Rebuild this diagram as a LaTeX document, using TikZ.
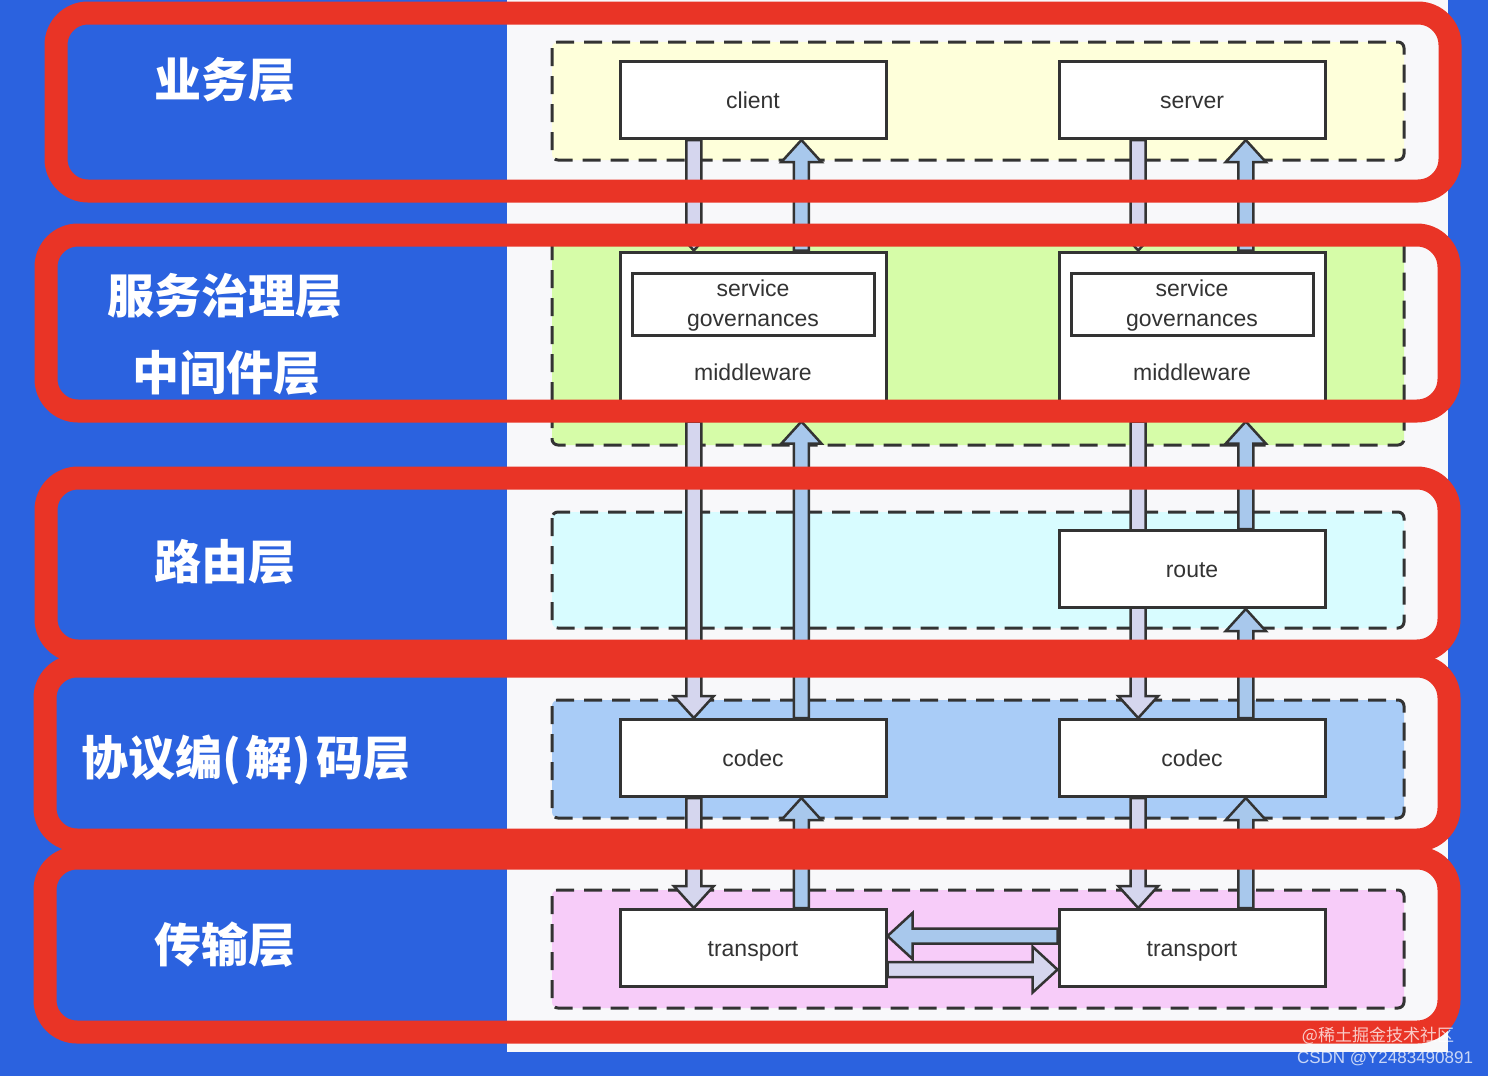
\documentclass[tikz,border=0pt]{standalone}
\usepackage{fontspec}
\setmainfont{Liberation Sans}
\newfontfamily\cjk{Noto Sans CJK SC}
\usetikzlibrary{positioning, calc}
\definecolor{figbg}{HTML}{2B62DF}
\definecolor{figpanel}{HTML}{F8F8FA}
\definecolor{figred}{HTML}{E93426}
\definecolor{figdark}{HTML}{333333}
\definecolor{figyellow}{HTML}{FEFFDA}
\definecolor{figgreen}{HTML}{D6FCA8}
\definecolor{figcyan}{HTML}{D8FCFF}
\definecolor{figblue}{HTML}{A9CCF7}
\definecolor{figpink}{HTML}{F7CCF9}
\definecolor{figlav}{HTML}{D5D6EE}
\definecolor{figsky}{HTML}{A8C8EC}
\pgfdeclarelayer{back}
\pgfdeclarelayer{mid}
\pgfsetlayers{back,mid,main}
\tikzset{
  figbox/.style={draw=figdark, line width=3pt, fill=white, align=center,
    inner sep=0pt, text=figdark, font=\fontsize{23}{30}\selectfont,
    text height=18pt, text depth=2pt,
    minimum width=266pt, minimum height=77pt},
  sgbox/.style={figbox, minimum width=242pt, minimum height=62pt,
    text height=44pt, text depth=0pt},
  mwbox/.style={figbox, text height=128pt, text depth=40pt},
  layerbox/.style={draw=figdark, line width=3pt, dash pattern=on 18pt off 10pt,
    rounded corners=6pt},
  redband/.style={draw=figred, line width=23pt, rounded corners=32pt},
  fatarrow/.style={draw=figdark, line width=2.5pt, line join=miter},
  dnfill/.style={fill=figlav},
  upfill/.style={fill=figsky},
  layertitle/.style={font=\cjk\bfseries\fontsize{47}{56}\selectfont, text=white},
  wmark/.style={font=\fontsize{17}{20}\selectfont, text=white, text opacity=0.75},
}
% hollow block arrows, vertical and horizontal
\newcommand\vfat[3]{%
  \draw[fatarrow,#1] let \p1=(#2), \p2=(#3), \n1={sign(\y2-\y1)} in
    ({\x1-7.5pt},\y1) -- ({\x1-7.5pt},{\y2-(\n1)*22pt}) -- ({\x1-20pt},{\y2-(\n1)*22pt})
    -- (\x1,\y2) -- ({\x1+20pt},{\y2-(\n1)*22pt}) -- ({\x1+7.5pt},{\y2-(\n1)*22pt})
    -- ({\x1+7.5pt},\y1) -- cycle;}
\newcommand\hfat[3]{%
  \draw[fatarrow,#1] let \p1=(#2), \p2=(#3), \n1={sign(\x2-\x1)} in
    (\x1,{\y1-7.5pt}) -- ({\x2-(\n1)*25pt},{\y1-7.5pt}) -- ({\x2-(\n1)*25pt},{\y1-23pt})
    -- (\x2,\y1) -- ({\x2-(\n1)*25pt},{\y1+23pt}) -- ({\x2-(\n1)*25pt},{\y1+7.5pt})
    -- (\x1,{\y1+7.5pt}) -- cycle;}

\begin{document}
\begin{tikzpicture}[x=1pt, y=-1pt]
  \begin{pgfonlayer}{back}
    \useasboundingbox[fill=figbg] (0,0) rectangle (1488,1076);
    \fill[figpanel] (507,0) rectangle (1448,1052);
    % layers
    \draw[layerbox, fill=figyellow] (552,42) rectangle (1404,160);
    \draw[layerbox, fill=figgreen] (552,236) rectangle (1404,445);
    \draw[layerbox, fill=figcyan] (552,512) rectangle (1404,628);
    \draw[layerbox, fill=figblue] (552,700) rectangle (1404,818);
    \draw[layerbox, fill=figpink] (552,890) rectangle (1404,1008);
  \end{pgfonlayer}

  % boxes
  \node[figbox] (client) at (753,100) {client};
  \node[figbox, right=170pt of client] (server) {server};
  \node[mwbox] (mwL) at (753,336) {middleware};
  \node[mwbox, right=170pt of mwL] (mwR) {middleware};
  \node[sgbox] (sgL) at (753,304) {service\\governances};
  \node[sgbox] (sgR) at (mwR |- sgL) {service\\governances};
  \node[figbox] (route) at (server |- 0,569) {route};
  \node[figbox] (codecL) at (753,758) {codec};
  \node[figbox, right=170pt of codecL] (codecR) {codec};
  \node[figbox] (trL) at (753,948) {transport};
  \node[figbox, right=170pt of trL] (trR) {transport};

  \begin{pgfonlayer}{mid}
    \foreach \a/\b in {client/mwL, mwL/codecL, codecL/trL} {
      \vfat{dnfill}{$(\a.south west)!.28!(\a.south east)$}{\b.north}
      \vfat{upfill}{$(\b.north west)!.68!(\b.north east)$}{\a.south}
    }
    \foreach \a/\b in {server/mwR, mwR/codecR, codecR/trR}
      \vfat{dnfill}{$(\a.south west)!.30!(\a.south east)$}{\b.north};
    \foreach \a/\b in {server/mwR, mwR/route, route/codecR, codecR/trR}
      \vfat{upfill}{$(\b.north west)!.70!(\b.north east)$}{\a.south};
    \hfat{upfill}{$(trR.north west)!.35!(trR.south west)$}{trL.east}
    \hfat{dnfill}{$(trL.north east)!.77!(trL.south east)$}{trR.west}
  \end{pgfonlayer}

  % red bands
  \draw[redband] (56,13) rectangle (1450,191);
  \draw[redband] (46,235) rectangle (1449,411);
  \draw[redband] (46,478) rectangle (1449,651);
  \draw[redband] (45,666) rectangle (1449,840);
  \draw[redband] (45,858) rectangle (1449,1032);

  \node[layertitle] (tBiz) at (225,80) {业务层};
  \node[layertitle] (tGov) at (225,296) {服务治理层};
  \node[layertitle] (tMid) at (226,373) {中间件层};
  \node[layertitle] (tRoute) at (225,562) {路由层};
  \node[layertitle] (tCodec) at (246,760) {协议编(\hspace{5pt}解)\hspace{5pt}码层};
  \node[layertitle] (tTrans) at (225,945) {传输层};

  \node[wmark] (wm1) at (1378,1036) {\cjk @稀土掘金技术社区};
  \node[wmark] (wm2) at (1385,1059) {CSDN @Y2483490891};
\end{tikzpicture}
\end{document}
